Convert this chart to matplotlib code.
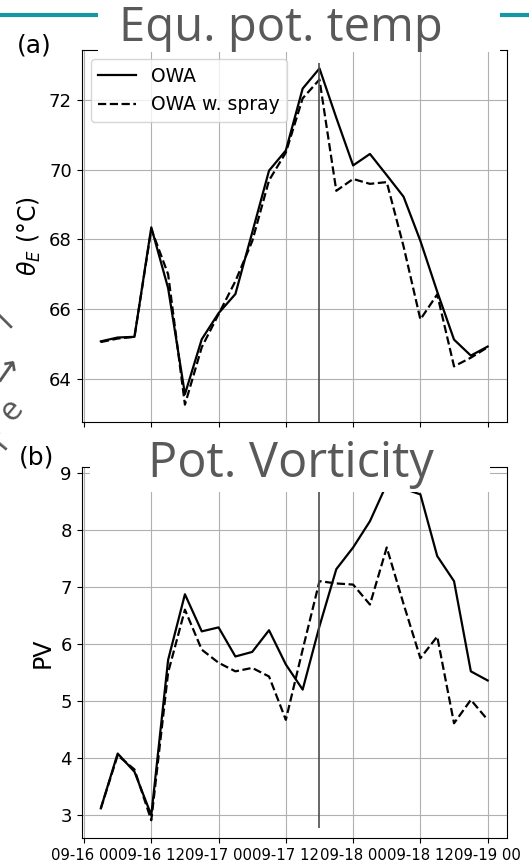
import matplotlib.pyplot as plt
import numpy as np
import matplotlib.dates as mdates
from matplotlib.patches import Rectangle
from matplotlib.lines import Line2D

# hours after 09-16 00
hours = [3, 6, 9, 12, 15, 18, 21, 24, 27, 30, 33, 36,
         39, 42, 45, 48, 51, 54, 57, 60, 63, 66, 69, 72]

theta_owa = [65.07, 65.18, 65.20, 68.35, 66.60, 63.55, 65.13, 65.88, 66.43, 68.20, 69.98, 70.56,
             72.34, 72.92, 71.50, 70.13, 70.46, 69.85, 69.23, 67.96, 66.50, 65.12, 64.66, 64.92]
theta_spray = [65.05, 65.15, 65.20, 68.30, 67.00, 63.25, 64.90, 65.85, 66.80, 67.95, 69.70, 70.50,
               72.06, 72.60, 69.40, 69.74, 69.60, 69.65, 67.80, 65.70, 66.42, 64.35, 64.60, 64.90]

pv_owa = [3.12, 4.08, 3.76, 3.00, 5.72, 6.87, 6.22, 6.29, 5.78, 5.86, 6.24, 5.64,
          5.20, 6.31, 7.31, 7.69, 8.15, 8.80, 8.72, 8.62, 7.54, 7.10, 5.52, 5.36]
pv_spray = [3.12, 4.05, 3.80, 2.91, 5.50, 6.60, 5.90, 5.67, 5.52, 5.58, 5.43, 4.67,
            5.90, 7.10, 7.06, 7.04, 6.69, 7.69, 6.70, 5.75, 6.13, 4.61, 5.02, 4.67]

event_hour = 42
theta_vline = (62.75, 73.08)
pv_vline = (2.77, 9.1)

start = np.datetime64('2020-09-16T00')
t = start + np.array(hours, dtype='timedelta64[h]')
t_event = start + np.timedelta64(event_hour, 'h')

W, H = 529, 865
fig = plt.figure(figsize=(W / 100, H / 100), dpi=100)

ax1 = fig.add_axes([81.5 / W, 1 - 422 / H, 425.5 / W, 372 / H])
ax2 = fig.add_axes([81.5 / W, 1 - 838 / H, 425.5 / W, 371 / H], sharex=ax1)

# (a) equivalent potential temperature
ax1.plot(t, theta_owa, 'k-', lw=1.6, label='OWA')
ax1.plot(t, theta_spray, 'k--', lw=1.6, label='OWA w. spray')
ax1.set_ylim(62.75, 73.45)
ax1.vlines(t_event, theta_vline[0], theta_vline[1], color='0.3', lw=1.2)
ax1.set_ylabel(r'$\theta_E$ (°C)', fontsize=17)
ax1.set_yticks([64, 66, 68, 70, 72])
ax1.legend(loc='upper left', fontsize=13.5)
ax1.grid(True)
ax1.tick_params(axis='y', labelsize=13)
ax1.tick_params(axis='x', labelbottom=False)

# (b) potential vorticity
ax2.plot(t, pv_owa, 'k-', lw=1.6)
ax2.plot(t, pv_spray, 'k--', lw=1.6)
ax2.set_ylim(2.6, 9.1)
ax2.vlines(t_event, pv_vline[0], pv_vline[1], color='0.3', lw=1.2)
ax2.set_ylabel('PV', fontsize=17)
ax2.set_yticks([3, 4, 5, 6, 7, 8, 9])
ax2.grid(True)
ax2.tick_params(axis='y', labelsize=13)
ax2.tick_params(axis='x', labelsize=10.7)

ax2.xaxis.set_major_locator(mdates.HourLocator(byhour=[0, 12]))
ax2.xaxis.set_major_formatter(mdates.DateFormatter('%m-%d %H'))

fig.text(34 / W, 1 - 45 / H, '(a)', fontsize=18, ha='center', va='center')
fig.text(37 / W, 1 - 458 / H, '(b)', fontsize=18, ha='center', va='center')

# poster overlay: teal rule and boxed titles
fig.add_artist(Line2D([0, 1], [1 - 15 / H, 1 - 15 / H], color='#1597a5', lw=3, zorder=4))
fig.add_artist(Rectangle((98 / W, 1 - 52 / H), 402 / W, 52 / H, facecolor='white',
                         edgecolor='none', zorder=5))
fig.add_artist(Rectangle((90 / W, 1 - 492 / H), 400 / W, 63 / H, facecolor='white',
                         edgecolor='none', zorder=5))
fig.text(280.5 / W, 1 - 41 / H, 'Equ. pot. temp', fontsize=34, family='Open Sans',
         color='#595959', ha='center', va='baseline', zorder=6)
fig.text(290.5 / W, 1 - 477 / H, 'Pot. Vorticity', fontsize=35, family='Open Sans',
         color='#595959', ha='center', va='baseline', zorder=6)

# cut-off lettering of the neighbouring poster panel
side = dict(fontsize=24, family=['Open Sans', 'DejaVu Sans'], color='#555555',
            ha='center', va='center', zorder=6)
fig.text(1 / W, 1 - 440 / H, 'r', rotation=50, **side)
fig.text(12 / W, 1 - 410 / H, 'e', rotation=50, **side)
fig.text(8 / W, 1 - 372 / H, '\u2192', rotation=55, **side)
fig.text(5 / W, 1 - 320 / H, 'l', rotation=45, **side)

fig.savefig('out.png', dpi=100)
